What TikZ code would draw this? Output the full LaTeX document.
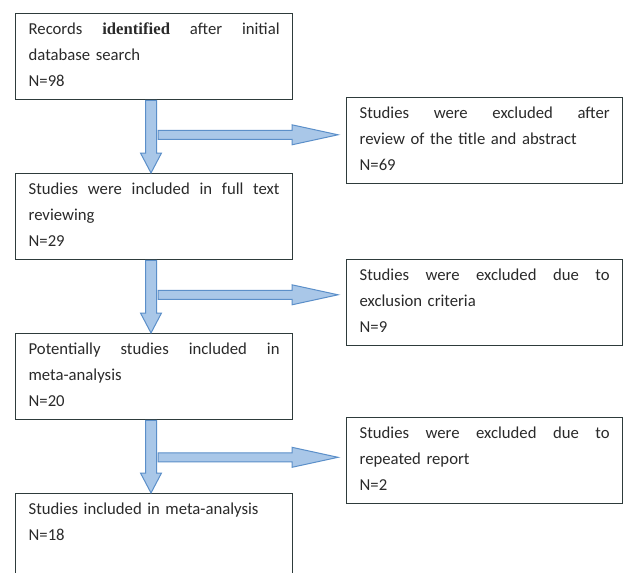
\documentclass[tikz,border=0pt]{standalone}
\usepackage{fontspec}
\setmainfont{Carlito}
\newfontfamily\serifbold{Liberation Serif}
\usetikzlibrary{calc}
\definecolor{arrfill}{HTML}{A9C7E8}
\definecolor{arrline}{HTML}{5B8FC9}
\definecolor{boxline}{HTML}{2E3B3B}
\definecolor{txt}{HTML}{2A2A2A}
\newcommand\sst{\rule[-6pt]{0pt}{20pt}}
\tikzset{
  box/.style={draw=boxline, line width=1.3pt, fill=white, anchor=north west,
    minimum height=86pt, inner xsep=13pt, inner ysep=0pt, align=left,
    text=txt, font=\fontsize{16.7}{26}\selectfont},
  lbox/.style={box, text width=251pt},
  rbox/.style={box, text width=250pt},
  blk/.style={fill=arrfill, draw=arrline, line width=1pt, line join=miter}
}
% vertical block arrow from node #1 (above) to node #2 (below)
\newcommand\vblk[2]{%
  \draw[blk] let \p1=(#1.south), \p2=(#2.north) in
    (145.5pt,\y1) -- (156.5pt,\y1) -- ({156.5pt},{\y2+20pt}) -- ({161.5pt},{\y2+20pt})
    -- (151pt,\y2) -- ({140.5pt},{\y2+20pt}) -- ({145.5pt},{\y2+20pt}) -- cycle;}
% horizontal block arrow from the shaft below node #1 to node #2, #3 = drop below #1
\newcommand\hblk[3]{%
  \draw[blk] let \p1=(#1.south), \p2=(#2.west), \n1={\y1-#3pt} in
    ({158pt},{\n1+4.5pt}) -- ({292pt},{\n1+4.5pt}) -- ({292pt},{\n1+10pt})
    -- ({\x2-8pt},{\n1}) -- ({292pt},{\n1-10pt}) -- ({292pt},{\n1-4.5pt})
    -- ({158pt},{\n1-4.5pt}) -- cycle;}
\begin{document}
\begin{tikzpicture}[x=1pt,y=-1pt]
\useasboundingbox[fill=white] (0,0) rectangle (624,573);
\begin{scope}
\clip (0,0) rectangle (624,573);
\node[lbox] (b1) at (15,13) {\sst Records\hfill{\serifbold\bfseries identified}\hfill after\hfill initial\\\sst database search\\\sst N=98};
\node[rbox] (r1) at (346,97) {\sst Studies\hfill were\hfill excluded\hfill after\\\sst review of the title and abstract\\\sst N=69};
\node[lbox] (b2) at (15,173) {\sst Studies\hfill were\hfill included\hfill in\hfill full\hfill text\\\sst reviewing\\\sst N=29};
\node[rbox] (r2) at (346,259) {\sst Studies\hfill were\hfill excluded\hfill due\hfill to\\\sst exclusion criteria\\\sst N=9};
\node[lbox] (b3) at (15,333) {\sst Potentially\hfill studies\hfill included\hfill in\\\sst meta-analysis\\\sst N=20};
\node[rbox] (r3) at (346,417) {\sst Studies\hfill were\hfill excluded\hfill due\hfill to\\\sst repeated report\\\sst N=2};
\node[lbox] (b4) at (15,493) {\sst Studies included in meta-analysis\\\sst N=18\\\sst};
\vblk{b1}{b2}
\vblk{b2}{b3}
\vblk{b3}{b4}
\hblk{b1}{r1}{34.5}
\hblk{b2}{r2}{34.5}
\hblk{b3}{r3}{37}
\end{scope}
\end{tikzpicture}
\end{document}
